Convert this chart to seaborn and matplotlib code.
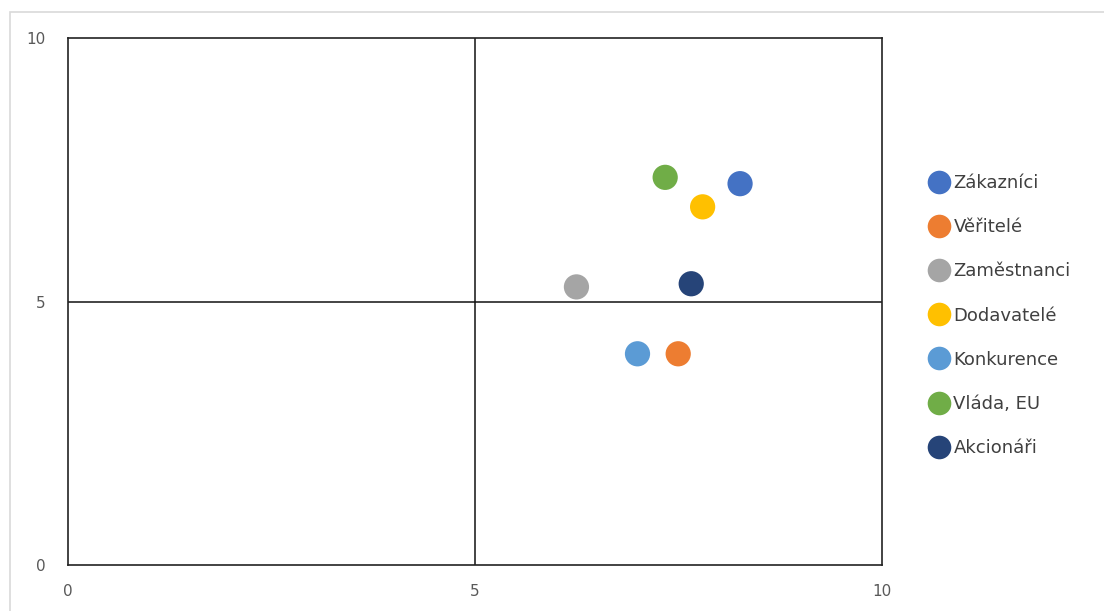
import matplotlib
matplotlib.use("Agg")
import matplotlib.pyplot as plt
import seaborn as sns
import pandas as pd
from matplotlib.patches import Rectangle
from matplotlib.lines import Line2D

groups = ["Zákazníci", "Věřitelé", "Zaměstnanci", "Dodavatelé", "Konkurence", "Vláda, EU", "Akcionáři"]
x_vals = [8.26, 7.50, 6.25, 7.80, 7.00, 7.34, 7.66]
y_vals = [7.24, 4.01, 5.28, 6.80, 4.01, 7.36, 5.34]
colors = ["#4472C4", "#ED7D31", "#A5A5A5", "#FFC000", "#5B9BD5", "#70AD47", "#264478"]
ticks = [0, 5, 10]

sns.set_theme(style="white")
plt.rcParams['font.family'] = ['DejaVu Sans']

df = pd.DataFrame({"x": x_vals, "y": y_vals, "group": groups})

fig = plt.figure(figsize=(11.04, 6.11), dpi=100)
ax = fig.add_axes([67.7 / 1104, 46 / 611, (881.7 - 67.7) / 1104, (565 - 38.3) / 611])

sns.scatterplot(data=df, x="x", y="y", hue="group", hue_order=groups,
                palette=colors, s=330, edgecolor="none", ax=ax, legend=False, zorder=3)

ax.set_xlim(0, 10)
ax.set_ylim(0, 10)
ax.set_xticks(ticks)
ax.set_yticks(ticks)
ax.set_xlabel("")
ax.set_ylabel("")
ax.tick_params(axis="both", length=0, labelsize=11, colors="#595959")
ax.tick_params(axis="y", pad=16)
ax.tick_params(axis="x", pad=14)
for sp in ax.spines.values():
    sp.set_color("#222222")
    sp.set_linewidth(1.2)
ax.axhline(5, color="#111111", lw=1.1, zorder=1)
ax.axvline(5, color="#111111", lw=1.1, zorder=1)

handles = [Line2D([0], [0], marker="o", linestyle="", markersize=17,
                  markerfacecolor=c, markeredgecolor="none") for c in colors]
leg = fig.legend(handles, groups, loc="upper left",
                 bbox_to_anchor=(930 / 1104, (611 - 174) / 611),
                 frameon=False, fontsize=13, handlelength=1.0, handletextpad=0.3,
                 labelspacing=1.45, borderpad=0, borderaxespad=0)
for t in leg.get_texts():
    t.set_color("#404040")

fig.patches.append(Rectangle((10 / 1104, -0.1), 1.2, (611 - 12) / 611 + 0.1,
                             transform=fig.transFigure, fill=False,
                             edgecolor="#D9D9D9", lw=1.2))

fig.savefig("out.png", dpi=100)
